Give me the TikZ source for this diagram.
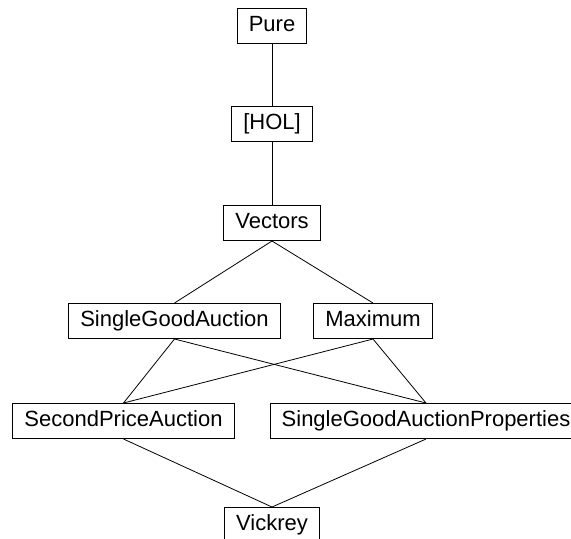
\documentclass[tikz,border=0pt]{standalone}
\usepackage{fontspec}
\setmainfont{Liberation Sans}
\usepackage{tikz}

\begin{document}
\begin{tikzpicture}[x=0.5pt,y=-0.5pt,
  thy/.style={draw, line width=0.5pt, font=\fontsize{11}{13}\selectfont,
    inner xsep=5.8pt, inner ysep=0pt, text height=8.3pt, text depth=2.6pt, minimum height=17.5pt}]
\useasboundingbox (0,0) rectangle (571,538);
\node[thy] (Pure) at (272,25.5) {Pure};
\node[thy] (HOL) at (272,124) {[HOL]};
\node[thy] (Vec) at (272,223) {Vectors};
\node[thy] (SGA) at (174.5,321) {SingleGoodAuction};
\node[thy] (Max) at (373,321) {Maximum};
\node[thy] (SPA) at (123.5,421) {SecondPriceAuction};
\node[thy] (SGAP) at (426,421) {SingleGoodAuctionProperties};
\node[thy] (Vick) at (272,525) {Vickrey};
\draw (Pure.south) -- (HOL.north);
\draw (HOL.south) -- (Vec.north);
\draw (Vec.south) -- (SGA.north);
\draw (Vec.south) -- (Max.north);
\draw (SGA.south) -- (SPA.north);
\draw (SGA.south) -- (SGAP.north);
\draw (Max.south) -- (SPA.north);
\draw (Max.south) -- (SGAP.north);
\draw (SPA.south) -- (Vick.north);
\draw (SGAP.south) -- (Vick.north);
\end{tikzpicture}
\end{document}
